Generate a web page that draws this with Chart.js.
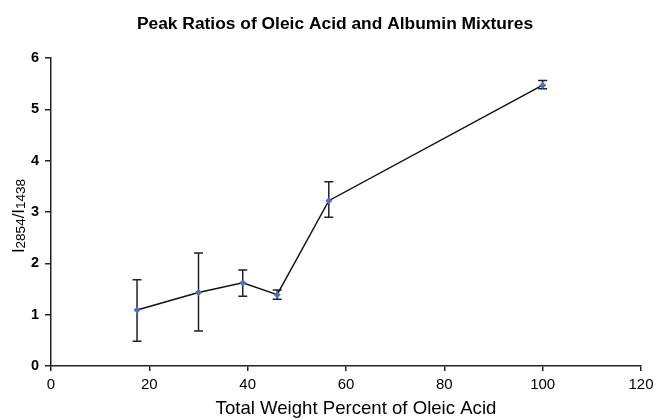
<!DOCTYPE html>
<html>
<head>
<meta charset="utf-8">
<script src="https://cdn.jsdelivr.net/npm/chart.js@4"></script>
<style>
  html, body { margin: 0; padding: 0; background: #fff; }
  canvas { display: block; }
</style>
</head>
<body>
<canvas id="chart" width="655" height="419"></canvas>
<script>
// data
const weightPercent = [17.5, 30, 39, 46, 56.5, 100];
const peakRatio = [1.09, 1.43, 1.62, 1.39, 3.22, 5.47];
const errLow = [0.48, 0.68, 1.36, 1.3, 2.9, 5.4];
const errHigh = [1.68, 2.2, 1.87, 1.48, 3.59, 5.56];
const xTicks = [0, 20, 40, 60, 80, 100, 120];
const yTicks = [0, 1, 2, 3, 4, 5, 6];

const FONT = "'Liberation Sans', Arial, sans-serif";
const AXIS = "#222";

// error bars under the markers
const errorBars = {
  id: "errorBars",
  beforeDatasetsDraw(chart) {
    const { ctx, scales } = chart;
    ctx.save();
    ctx.strokeStyle = "#222";
    ctx.lineWidth = 1.5;
    weightPercent.forEach((x, i) => {
      const px = scales.x.getPixelForValue(x);
      const top = scales.y.getPixelForValue(errHigh[i]);
      const bot = scales.y.getPixelForValue(errLow[i]);
      ctx.beginPath();
      ctx.moveTo(px, top);
      ctx.lineTo(px, bot);
      ctx.moveTo(px - 4.5, top);
      ctx.lineTo(px + 4.5, top);
      ctx.moveTo(px - 4.5, bot);
      ctx.lineTo(px + 4.5, bot);
      ctx.stroke();
    });
    ctx.restore();
  },
};

// title and axis titles (y title needs subscripts)
const labels = {
  id: "labels",
  afterDraw(chart) {
    const { ctx } = chart;
    ctx.save();
    ctx.fillStyle = "#000";
    ctx.textAlign = "center";
    ctx.textBaseline = "middle";
    ctx.font = "bold 17.4px " + FONT;
    ctx.fillText("Peak Ratios of Oleic Acid and Albumin Mixtures", 335, 24);
    ctx.font = "18.6px " + FONT;
    ctx.fillText("Total Weight Percent of Oleic Acid", 356, 409);

    const parts = [
      ["I", 17, 0],
      ["2854", 13.5, 1],
      ["/I", 17, 0],
      ["1438", 13.5, 1],
    ];
    let total = 0;
    parts.forEach(([t, size]) => {
      ctx.font = size + "px " + FONT;
      total += ctx.measureText(t).width;
    });
    ctx.translate(24, 216);
    ctx.rotate(-Math.PI / 2);
    ctx.textAlign = "left";
    ctx.textBaseline = "alphabetic";
    let pos = -total / 2;
    parts.forEach(([t, size, dy]) => {
      ctx.font = size + "px " + FONT;
      ctx.fillText(t, pos, dy);
      pos += ctx.measureText(t).width;
    });
    ctx.restore();
  },
};

new Chart(document.getElementById("chart"), {
  type: "line",
  data: {
    datasets: [
      {
        data: weightPercent.map((x, i) => ({ x, y: peakRatio[i] })),
        borderColor: "#111",
        borderWidth: 1.5,
        pointStyle: "rectRot",
        pointRadius: 3.5,
        pointBackgroundColor: "#4a6fd0",
        pointBorderColor: "#4a6fd0",
        pointBorderWidth: 0,
        tension: 0,
      },
    ],
  },
  options: {
    responsive: false,
    animation: false,
    layout: { padding: { top: 58, right: 14, bottom: 0, left: 0 } },
    plugins: {
      legend: { display: false },
      tooltip: { enabled: false },
      title: { display: false },
    },
    scales: {
      x: {
        type: "linear",
        min: 0,
        max: 120,
        afterBuildTicks: (s) => (s.ticks = xTicks.map((v) => ({ value: v }))),
        afterFit: (s) => {
          s.height = 53;
          s.paddingLeft = 0;
          s.paddingRight = 0;
        },
        grid: { drawOnChartArea: false, tickLength: 5, color: AXIS, lineWidth: 1.5 },
        border: { color: AXIS, width: 1.5 },
        ticks: { color: "#000", padding: 5, font: { family: FONT, size: 15 } },
      },
      y: {
        min: 0,
        max: 6,
        afterBuildTicks: (s) => (s.ticks = yTicks.map((v) => ({ value: v }))),
        afterFit: (s) => (s.width = 51),
        grid: { drawOnChartArea: false, tickLength: 6, color: AXIS, lineWidth: 1.5 },
        border: { color: AXIS, width: 1.5 },
        ticks: { color: "#000", padding: 6, font: { family: FONT, size: 14.5, weight: "bold" } },
      },
    },
  },
  plugins: [errorBars, labels],
});
</script>
</body>
</html>
